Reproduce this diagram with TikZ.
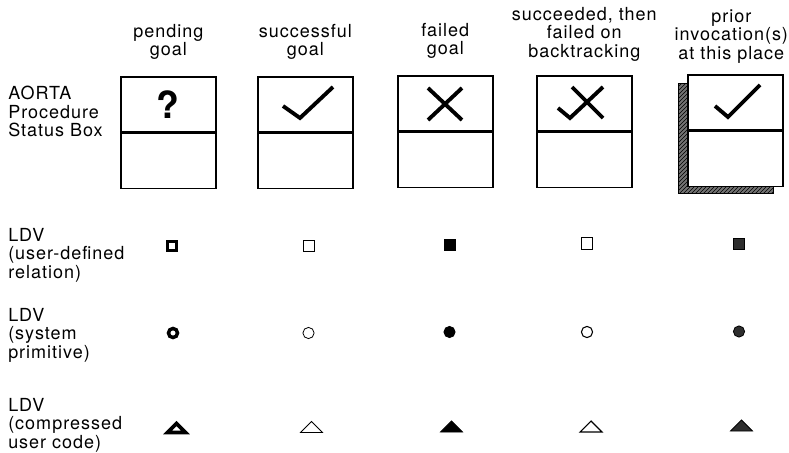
\documentclass[tikz,border=0pt]{standalone}
\usepackage{fontspec}
\setmainfont{TeX Gyre Heros}[LetterSpace=5.5]
\usetikzlibrary{positioning,patterns}
\tikzset{
    every node/.style={font=\fontsize{13.5}{13.9}\selectfont},
    rowlabel/.style={align=left,anchor=north west,inner sep=0pt},
    colhead/.style={align=center,anchor=south,inner sep=0pt},
    half/.style={draw,line width=1.2pt,fill=white,minimum width=71.25pt,minimum height=41.25pt,inner sep=0pt},
    shadowbox/.style={draw,line width=0.6pt,fill=black!55,minimum width=71.25pt,minimum height=82.5pt,inner sep=0pt,
        postaction={pattern=north east lines,pattern color=black}},
    tick/.style={line width=2.9pt,line join=miter},
    sq/.style={rectangle,minimum size=8.4pt,inner sep=0pt},
    dot/.style={circle,minimum size=8.4pt,inner sep=0pt},
    tri/.pic={\path[pic actions] (-11,5.5) -- (11,5.5) -- (0,-5.5) -- cycle;},
    pend/.style={draw,line width=2.6pt,fill=white,minimum size=6.8pt},
    succ/.style={draw,line width=0.6pt},
    fail/.style={draw,fill=black,line width=0.6pt},
    back/.style={draw,line width=0.8pt},
    prior/.style={draw,fill=black!82,line width=0.6pt}
}
\begin{document}
\begin{tikzpicture}[x=0.75pt,y=-0.75pt]
    \useasboundingbox (0,0) rectangle (789,453);

    \node[half,anchor=north west] (pendtop) at (120,76) {};
    \node[half,below=0pt of pendtop] (pendbot) {};
    \node[half,anchor=north west] (succtop) at (257,76) {};
    \node[half,below=0pt of succtop] (succbot) {};
    \node[half,anchor=north west] (failtop) at (397,75) {};
    \node[half,below=0pt of failtop] (failbot) {};
    \node[half,anchor=north west] (backtop) at (536,75) {};
    \node[half,below=0pt of backtop] (backbot) {};
    \node[shadowbox,anchor=north west] (priorshadow) at (678,83) {};
    \node[half,anchor=north west] (priortop) at (687,74) {};
    \node[half,below=0pt of priortop] (priorbot) {};

    \node[colhead,above=12pt of pendtop] (pendhead) {pending\\goal};
    \node[colhead,above=12pt of succtop] (succhead) {successful\\goal};
    \node[colhead,above=12pt of failtop] (failhead) {failed\\goal};
    \node[colhead,above=10pt of backtop] (backhead) {succeeded, then\\failed on\\backtracking};
    \node[colhead,above=8pt of priortop,xshift=-3pt] (priorhead) {prior\\invocation(s)\\at this place};

    \node[rowlabel] (aorta) at (8,86) {AORTA\\Procedure\\Status Box};
    \node[rowlabel] (ldvrel) at (8,228) {LDV\\(user-defined\\relation)};
    \node[rowlabel] (ldvprim) at (8,308) {LDV\\(system\\primitive)};
    \node[rowlabel] (ldvcomp) at (8,398) {LDV\\(compressed\\user code)};

    \node[font=\fontsize{28}{28}\selectfont\bfseries] (qmark) at (pendtop) {?};
    \draw[tick] ([shift={(26,30)}]succtop.north west) -- ++(17,12) -- ++(33,-31);
    \draw[tick] ([shift={(31,13)}]failtop.north west) -- ++(34,32);
    \draw[tick] ([shift={(31,45)}]failtop.north west) -- ++(34,-32);
    \draw[tick] ([shift={(22,33)}]backtop.north west) -- ++(12,10) -- ++(33,-31);
    \draw[tick] ([shift={(36,12)}]backtop.north west) -- ++(31,31);
    \draw[tick] ([shift={(28,32)}]priortop.north west) -- ++(13,11) -- ++(32,-32);

    \node[sq,pend] (pendsq) at (172,246) {};
    \node[sq,succ] (succsq) at (308.5,245.5) {};
    \node[sq,fail] (failsq) at (449.5,245) {};
    \node[sq,back] (backsq) at (587,243.5) {};
    \node[sq,prior] (priorsq) at (739,244) {};

    \node[dot,pend] (penddot) at (173,333) {};
    \node[dot,succ] (succdot) at (308.5,333) {};
    \node[dot,fail] (faildot) at (449.5,332) {};
    \node[dot,back] (backdot) at (587,332) {};
    \node[dot,prior] (priordot) at (739,331.5) {};

    \pic[pend,line width=2.8pt,scale=0.8] at (176.5,428) {tri};
    \pic[succ] at (311.5,427) {tri};
    \pic[fail] at (451.5,426.5) {tri};
    \pic[back] at (591,426.5) {tri};
    \pic[prior] at (741.5,425.5) {tri};
\end{tikzpicture}
\end{document}
